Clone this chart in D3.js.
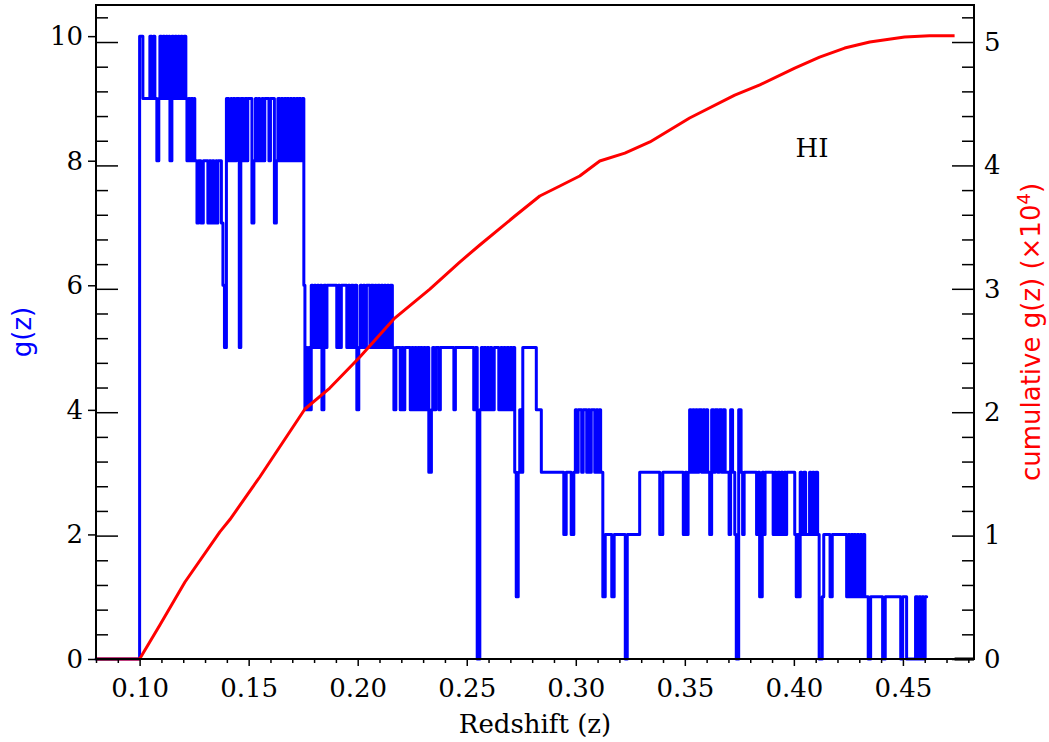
<!DOCTYPE html>
<html><head><meta charset="utf-8">
<script src="https://cdn.jsdelivr.net/npm/d3@7"></script>
<style>body{margin:0;background:#fff}svg{display:block}</style>
</head><body><svg id="c" width="1049" height="742"></svg>
<script>
// ---------- data ----------
const xTicks = [0.10, 0.15, 0.20, 0.25, 0.30, 0.35, 0.40, 0.45];
const gTicks = [0, 2, 4, 6, 8, 10];
const cumTicks = [0, 1, 2, 3, 4, 5];
const speciesLabel = "HI";

// g(z) step function: [redshift, g] (value holds until next redshift)
const gSteps = [
[0.0800,0],[0.1000,10],[0.1015,9],[0.1047,10],[0.1056,9],[0.1063,10],[0.1070,9],[0.1079,8],[0.1088,9],[0.1093,10],
[0.1100,9],[0.1107,10],[0.1114,9],[0.1121,10],[0.1127,9],[0.1134,10],[0.1139,8],[0.1148,10],[0.1155,9],[0.1162,10],
[0.1169,9],[0.1176,10],[0.1182,9],[0.1189,10],[0.1196,9],[0.1203,10],[0.1212,9],[0.1217,8],[0.1224,9],[0.1231,8],
[0.1237,9],[0.1244,8],[0.1249,9],[0.1253,8],[0.1263,7],[0.1270,8],[0.1281,7],[0.1292,8],[0.1313,7],[0.1320,8],
[0.1327,7],[0.1334,8],[0.1341,7],[0.1350,8],[0.1354,7],[0.1359,8],[0.1375,7],[0.1382,6],[0.1389,5],[0.1398,9],
[0.1409,8],[0.1418,9],[0.1423,8],[0.1430,9],[0.1437,8],[0.1444,9],[0.1457,5],[0.1464,9],[0.1476,8],[0.1483,9],
[0.1490,8],[0.1496,9],[0.1515,7],[0.1524,8],[0.1531,9],[0.1538,8],[0.1545,9],[0.1551,8],[0.1561,9],[0.1567,8],
[0.1574,9],[0.1593,8],[0.1600,9],[0.1618,7],[0.1627,8],[0.1634,9],[0.1643,8],[0.1650,9],[0.1657,8],[0.1664,9],
[0.1671,8],[0.1677,9],[0.1684,8],[0.1691,9],[0.1698,8],[0.1705,9],[0.1712,8],[0.1719,9],[0.1726,8],[0.1732,9],
[0.1739,8],[0.1746,9],[0.1753,6],[0.1758,4],[0.1765,5],[0.1769,4],[0.1776,5],[0.1781,4],[0.1787,6],
[0.1794,5],[0.1801,6],[0.1808,5],[0.1815,6],[0.1822,5],[0.1829,6],[0.1836,4],[0.1845,6],[0.1854,5],[0.1859,6],
[0.1904,5],[0.1911,6],[0.1918,5],[0.1925,6],[0.1950,5],[0.1957,6],[0.1964,5],[0.1971,6],[0.1980,5],[0.1987,6],
[0.1996,4],[0.2005,5],[0.2012,6],[0.2019,5],[0.2026,6],[0.2033,5],[0.2040,6],[0.2056,5],[0.2062,6],[0.2072,5],
[0.2079,6],[0.2085,5],[0.2092,6],[0.2101,5],[0.2108,6],[0.2115,5],[0.2122,6],[0.2129,5],[0.2136,6],[0.2143,5],
[0.2150,6],[0.2159,5],[0.2166,4],[0.2175,5],[0.2195,4],[0.2202,5],[0.2209,4],[0.2216,5],[0.2241,4],[0.2248,5],
[0.2255,4],[0.2262,5],[0.2269,4],[0.2276,5],[0.2283,4],[0.2289,5],[0.2296,4],[0.2303,5],[0.2310,4],[0.2317,5],
[0.2326,3],[0.2338,4],[0.2344,5],[0.2351,4],[0.2358,5],[0.2372,4],[0.2379,5],[0.2441,4],[0.2448,5],[0.2532,4],
[0.2539,5],[0.2548,0],[0.2560,4],[0.2567,5],[0.2574,4],[0.2580,5],[0.2587,4],[0.2594,5],[0.2601,4],[0.2608,5],
[0.2615,4],[0.2626,5],[0.2647,4],[0.2656,5],[0.2663,4],[0.2670,5],[0.2677,4],[0.2684,5],[0.2693,4],[0.2700,5],
[0.2707,4],[0.2713,5],[0.2720,3],[0.2727,1],[0.2736,3],[0.2743,4],[0.2750,3],[0.2757,5],[0.2819,4],[0.2842,3],
[0.2945,2],[0.2956,3],[0.2979,2],[0.2991,3],[0.2998,4],[0.3004,3],[0.3011,4],[0.3027,3],[0.3034,4],[0.3050,3],
[0.3057,4],[0.3064,3],[0.3071,4],[0.3087,3],[0.3094,4],[0.3101,3],[0.3108,4],[0.3114,3],[0.3124,1],[0.3135,2],
[0.3165,1],[0.3176,2],[0.3227,0],[0.3236,2],[0.3293,3],[0.3385,2],[0.3399,3],[0.3493,2],[0.3502,3],[0.3509,2],
[0.3515,3],[0.3522,4],[0.3529,3],[0.3536,4],[0.3543,3],[0.3550,4],[0.3557,3],[0.3564,4],[0.3577,3],[0.3584,4],
[0.3591,3],[0.3598,4],[0.3605,3],[0.3614,2],[0.3623,4],[0.3632,3],[0.3639,4],[0.3651,3],[0.3658,4],[0.3669,3],
[0.3676,4],[0.3685,3],[0.3703,2],[0.3710,4],[0.3719,3],[0.3729,2],[0.3736,0],[0.3747,4],[0.3758,3],[0.3765,2],
[0.3772,3],[0.3829,2],[0.3836,3],[0.3843,1],[0.3855,3],[0.3862,2],[0.3868,3],[0.3905,2],[0.3912,3],[0.3919,2],
[0.3926,3],[0.3935,2],[0.3942,3],[0.3949,2],[0.3956,3],[0.3962,2],[0.3967,3],[0.4004,2],[0.4011,1],[0.4017,2],
[0.4022,1],[0.4029,3],[0.4036,2],[0.4045,3],[0.4054,2],[0.4072,3],[0.4079,2],[0.4086,3],[0.4093,2],[0.4100,3],
[0.4109,2],[0.4116,0],[0.4130,1],[0.4137,2],[0.4166,1],[0.4176,2],[0.4242,1],[0.4249,2],[0.4256,1],[0.4263,2],
[0.4270,1],[0.4276,2],[0.4283,1],[0.4290,2],[0.4297,1],[0.4304,2],[0.4311,1],[0.4318,2],[0.4325,1],[0.4341,0],
[0.4352,1],[0.4407,0],[0.4419,1],[0.4490,0],[0.4499,1],[0.4517,0],[0.4558,1],[0.4567,0],[0.4574,1],[0.4581,0],
[0.4588,1],[0.4595,0],[0.4602,1],[0.4609,1]
];

// cumulative g(z) in units of 1e4
const cumZ   = [0.080,0.100,0.1093,0.1208,0.1368,0.1414,0.1551,0.1758,0.1872,0.2010,0.2170,0.2331,0.2468,0.2560,0.2721,0.2835,0.2927,0.3018,0.3110,0.3225,0.3340,0.3522,0.3729,0.3844,0.4004,0.4118,0.4233,0.4348,0.4508,0.4622,0.4737];
const cumVal = [0,    0,    0.276, 0.624, 1.03,  1.13,  1.475, 2.026, 2.196, 2.447, 2.763, 2.998, 3.217, 3.355, 3.590, 3.752, 3.833, 3.914, 4.036, 4.10,  4.19,  4.384, 4.570, 4.652, 4.789, 4.878, 4.951, 5.00,  5.04,  5.05,  5.05];

// short black segment at zero, far right
const blackZ = [0.4737, 0.4826];
const blackVal = [0, 0];

// ---------- layout ----------
const W = 1049, H = 742;
const L = 96, R = 974, T = 5, B = 659;
const svg = d3.select("#c");
const x = d3.scaleLinear().domain([0.08, 0.4826]).range([L, R]);
const yL = d3.scaleLinear().domain([0, 10.5]).range([B, T]);
const yR = d3.scaleLinear().domain([0, 5.3]).range([B, T]);

const serif = "'DejaVu Serif', serif";
const sans = "'DejaVu Sans', sans-serif";

// blue step line
const gLine = d3.line().x(d => x(d[0])).y(d => yL(d[1])).curve(d3.curveStepAfter);
svg.append("path").datum(gSteps).attr("d", gLine)
  .attr("fill", "none").attr("stroke", "#0000ff").attr("stroke-width", 3)
  .attr("stroke-linejoin", "round").attr("stroke-linecap", "round");

// red cumulative
const cumData = cumZ.map((z, i) => [z, cumVal[i]]);
const cLine = d3.line().x(d => x(d[0])).y(d => yR(d[1]));
svg.append("path").datum(cumData).attr("d", cLine)
  .attr("fill", "none").attr("stroke", "#ff0000").attr("stroke-width", 3)
  .attr("stroke-linejoin", "round");

// black segment
svg.append("path").datum(blackZ.map((z, i) => [z, blackVal[i]])).attr("d", cLine)
  .attr("fill", "none").attr("stroke", "#000").attr("stroke-width", 3);

// frame
svg.append("rect").attr("x", L).attr("y", T).attr("width", R - L).attr("height", B - T)
  .attr("fill", "none").attr("stroke", "#000").attr("stroke-width", 2);

// bottom axis
const xMinor = d3.range(8, 49).map(v => v / 100).filter(v => !xTicks.some(t => Math.abs(t - v) < 1e-9));
const xAx = svg.append("g").attr("transform", `translate(0,${B})`)
  .call(d3.axisBottom(x).tickValues(xTicks).tickFormat(d3.format(".2f")).tickSize(7).tickSizeOuter(0).tickPadding(13));
xAx.select(".domain").remove();
xAx.selectAll("text").attr("font-family", serif).attr("font-size", 26).attr("fill", "#000");
xAx.selectAll("line").attr("stroke-width", 1.5);
const xMin = svg.append("g").attr("transform", `translate(0,${B})`)
  .call(d3.axisBottom(x).tickValues(xMinor).tickFormat("").tickSize(4).tickSizeOuter(0));
xMin.select(".domain").remove();
xMin.selectAll("line").attr("stroke-width", 1.5);

// left g axis
const yAx = svg.append("g").attr("transform", `translate(${L},0)`)
  .call(d3.axisLeft(yL).tickValues(gTicks).tickSize(8).tickSizeOuter(0).tickPadding(5));
yAx.select(".domain").remove();
yAx.selectAll("text").attr("font-family", serif).attr("font-size", 26).attr("fill", "#000");
yAx.selectAll("line").attr("stroke-width", 1.5);

// cumulative axis ticks: inward on both sides
const cumMinor = d3.range(0, 27).map(v => v / 5).filter(v => v <= 5.3 && Math.abs(v - Math.round(v)) > 1e-9);
[[L, 1], [R, -1]].forEach(([px, dir]) => {
  const gMaj = svg.append("g").attr("transform", `translate(${px},0)`);
  const gMin = svg.append("g").attr("transform", `translate(${px},0)`);
  gMaj.call(d3.axisRight(yR).tickValues(cumTicks).tickSizeInner(dir * 22).tickSizeOuter(0).tickPadding(10)
    .tickFormat(dir < 0 ? d3.format("d") : ""));
  gMin.call(d3.axisRight(yR).tickValues(cumMinor).tickSizeInner(dir * 12).tickSizeOuter(0).tickFormat(""));
  [gMaj, gMin].forEach(g => { g.select(".domain").remove(); g.selectAll("line").attr("stroke-width", 1.5); });
  gMaj.selectAll("text").attr("font-family", serif).attr("font-size", 26).attr("fill", "#000");
});

// labels
svg.append("text").attr("x", (L + R) / 2).attr("y", 733).attr("text-anchor", "middle")
  .attr("font-family", serif).attr("font-size", 26).text("Redshift (z)");
svg.append("text").attr("transform", `translate(31,332) rotate(-90)`).attr("text-anchor", "middle")
  .attr("font-family", sans).attr("font-size", 26).attr("fill", "#0000ff").text("g(z)");
const rl = svg.append("text").attr("transform", `translate(1040,332) rotate(-90)`).attr("text-anchor", "middle")
  .attr("font-family", sans).attr("font-size", 26).attr("fill", "#ff0000");
rl.append("tspan").text("cumulative g(z) (×10");
rl.append("tspan").attr("font-size", 18).attr("dy", -10).text("4");
rl.append("tspan").attr("dy", 10).text(")");
svg.append("text").attr("x", 812).attr("y", 157).attr("text-anchor", "middle")
  .attr("font-family", serif).attr("font-size", 26).text(speciesLabel);
</script>
</body></html>
